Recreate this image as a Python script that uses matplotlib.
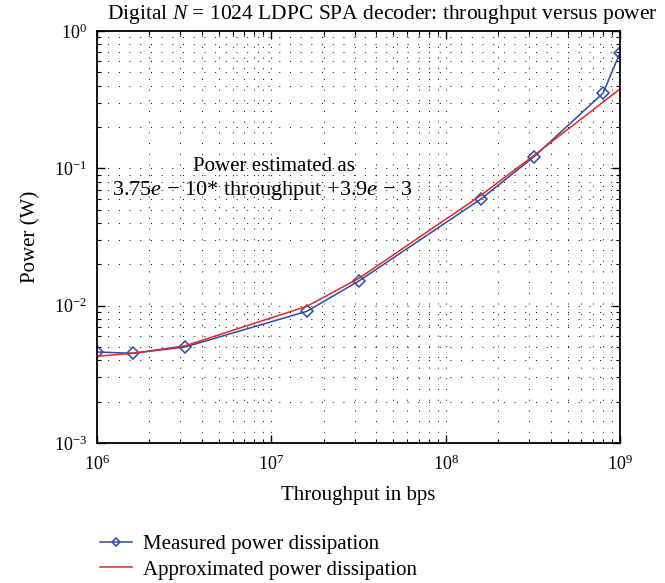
import numpy as np
import matplotlib
matplotlib.use("Agg")
import matplotlib.pyplot as plt

plt.rcParams['font.family'] = ['Liberation Serif', 'DejaVu Serif']
plt.rcParams['mathtext.fontset'] = 'custom'
plt.rcParams['mathtext.rm'] = 'Liberation Serif'
plt.rcParams['mathtext.it'] = 'Liberation Serif:italic'
plt.rcParams['axes.unicode_minus'] = True

# values
throughput = [1e6, 1.6e6, 3.2e6, 1.6e7, 3.2e7, 1.6e8, 3.2e8, 8e8, 1e9]
measured = [0.0046, 0.0045, 0.0050, 0.0091, 0.0152, 0.060, 0.121, 0.353, 0.695]
approx = [0.00428, 0.0045, 0.0051, 0.0099, 0.0159, 0.0639, 0.1239, 0.3039, 0.3789]

blue = '#2b4aa6'
red = '#e8232b'

fig = plt.figure(figsize=(6.65, 5.83), dpi=100)
ax = fig.add_axes([97/665, 1-443/583, (620-97)/665, (443-31)/583])

ax.plot(throughput, measured, color=blue, lw=1.1, marker='D', ms=6,
        mfc='none', mec=blue, mew=1.1, label='Measured power dissipation')
ax.plot(throughput, approx, color=red, lw=1.1, label='Approximated power dissipation')

ax.set_xscale('log')
ax.set_yscale('log')
ax.set_xlim(1e6, 1e9)
ax.set_ylim(1e-3, 1)

# sparse dotted grid on major and minor ticks
ax.grid(True, which='both', color='black', linestyle=(0, (1, 10)), lw=0.7)

ax.tick_params(which='both', direction='in', top=True, right=True, labelsize=13)
ax.tick_params(which='major', length=6, width=1)
ax.tick_params(which='minor', length=3, width=0.8)
ax.tick_params(axis='x', which='major', pad=8)
ax.tick_params(axis='y', which='major', pad=7)
for s in ax.spines.values():
    s.set_linewidth(1.3)

ax.set_xlabel('Throughput in bps', fontsize=15, labelpad=9)
ax.set_ylabel('Power (W)', fontsize=15, labelpad=10)

fig.text(382/665, 1-19/583, 'Digital $N$ = 1024 LDPC SPA decoder: throughput versus power',
         ha='center', va='baseline', fontsize=15.5)

fig.text(274/665, 1-171/583, 'Power estimated as',
         ha='center', va='baseline', fontsize=15)
fig.text(262/665, 1-195/583, '3.75$e$ \u2212 10* throughput +3.9$e$ \u2212 3',
         ha='center', va='baseline', fontsize=16)

h, l = ax.get_legend_handles_labels()
fig.legend(h, l, loc='upper left', bbox_to_anchor=(92/665, 1-526/583), frameon=False,
           fontsize=15, handlelength=1.5, handletextpad=0.55, labelspacing=0.3,
           borderaxespad=0, markerscale=0.65)

fig.savefig('out.png', dpi=100)
